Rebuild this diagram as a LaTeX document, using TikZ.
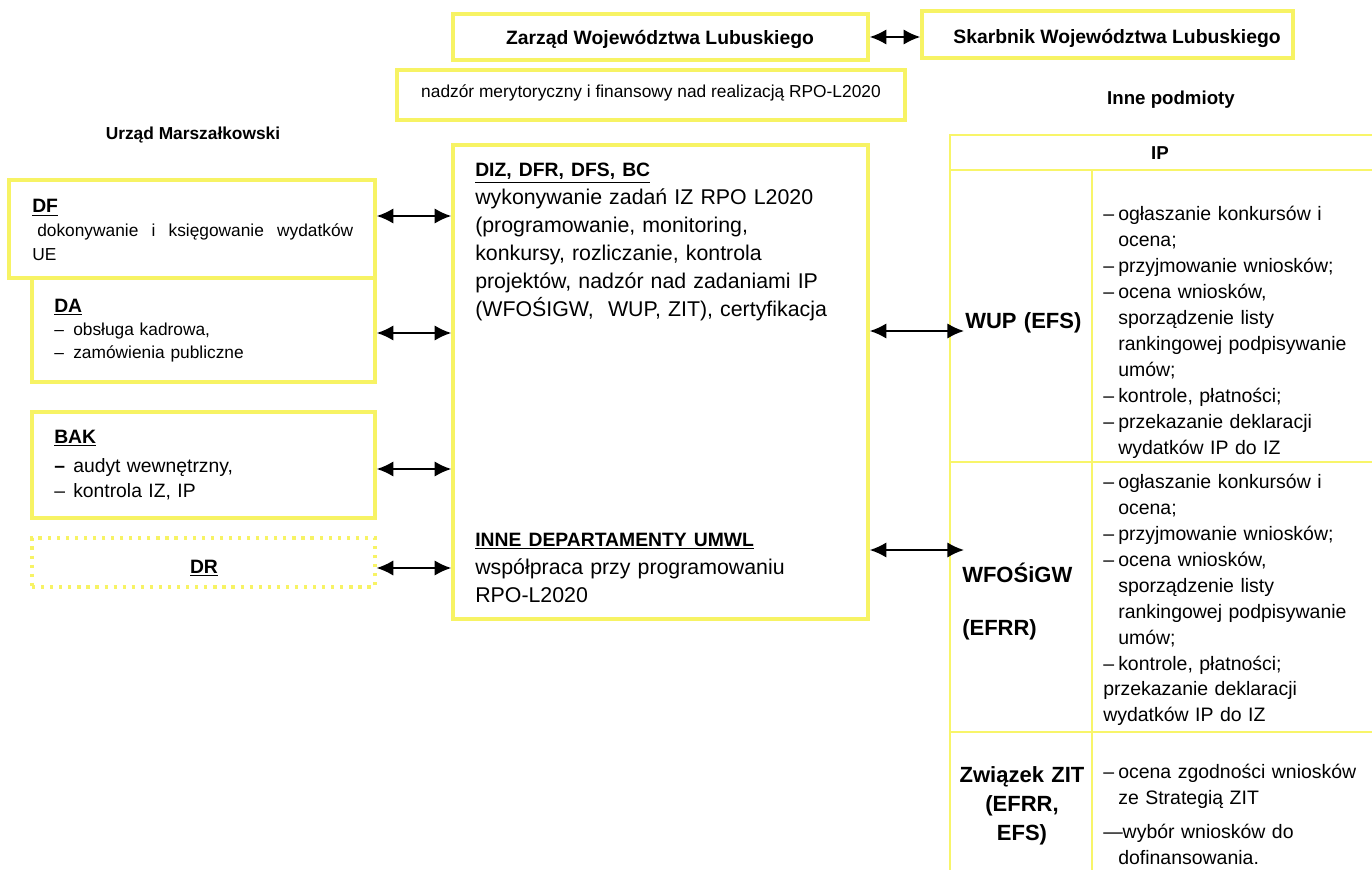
\documentclass[tikz,border=0pt]{standalone}
\usepackage{fontspec}
\setmainfont{Liberation Sans}
\usetikzlibrary{arrows.meta,fit}
\definecolor{ybox}{RGB}{247,243,100}
\definecolor{yline}{RGB}{248,245,105}
\newcommand{\fsz}[2]{\fontsize{#1}{#2}\selectfont}
\newcommand{\dsh}{\makebox[11.25pt][l]{–}}
\newcommand{\ind}{\hspace*{11.25pt}}
\newcommand{\ldsh}{\makebox[14.25pt][l]{–}}
\begin{document}
\begin{tikzpicture}[x=0.75pt,y=-0.75pt,
  ybox/.style={draw=ybox,line width=2.6pt,inner sep=0pt},
  ydot/.style={draw=ybox,line width=2.4pt,dash pattern=on 2.4pt off 4.4pt,inner sep=0pt},
  tline/.style={draw=yline,line width=1.8pt},
  dbl/.style={{Latex[length=12.5pt,width=11.5pt]}-{Latex[length=12.5pt,width=11.5pt]},line width=1.4pt},
  txt/.style={inner sep=0pt,anchor=base west,align=left},
  ctxt/.style={inner sep=0pt,anchor=base},
  ]
\useasboundingbox[fill=white] (0,0) rectangle (1372,870);

% boxes
\node[ybox,fit={(453,14)(868,60)}] (zarzad) {};
\node[ybox,fit={(922,11)(1293,58)}] (skarbnik) {};
\node[ybox,fit={(397,70)(905,120)}] (nadzor) {};
\node[ybox,fit={(9,180)(375,278)}] (df) {};
\node[ybox,fit={(32,278)(375,382)}] (da) {};
\node[ybox,fit={(32,412)(375,518)}] (bak) {};
\node[ydot,fit={(32,538)(375,587)}] (dr) {};
\node[ybox,fit={(453,145)(868,619)}] (ctr) {};

% table
\draw[tline] (950,870) -- (950,135) -- (1372,135);
\draw[tline] (950,170) -- (1372,170);
\draw[tline] (950,462) -- (1372,462);
\draw[tline] (950,732) -- (1372,732);
\draw[tline] (1092,170) -- (1092,870);

% titles
\node[ctxt,font=\bfseries\fsz{14.5pt}{17pt}] (zarzadT) at (660,45) {Zarząd Województwa Lubuskiego};
\node[ctxt,font=\bfseries\fsz{14.5pt}{17pt}] (skarbT) at (1117,44) {Skarbnik Województwa Lubuskiego};
\node[ctxt,font=\fsz{13pt}{15pt}] (nadzorT) at (651,98) {nadzór merytoryczny i finansowy nad realizacją RPO-L2020};
\node[ctxt,font=\bfseries\fsz{13pt}{15pt}] (urzad) at (193,140) {Urząd Marszałkowski};
\node[ctxt,font=\bfseries\fsz{14pt}{17pt}] (inne) at (1171,105) {Inne podmioty};

% left texts
\node[txt,text width=260pt,font=\fsz{13pt}{18pt}] (dfT) at (32,213)
  {{\bfseries\fsz{14.5pt}{18pt}\underline{DF}}\\
   \hspace*{3.75pt}\hbox to 237pt{dokonywanie\hfill i\hfill księgowanie\hfill wydatków}\\
   UE};
\node[txt,text width=240pt,font=\fsz{13pt}{17.6pt}] (daT) at (54,312)
  {{\bfseries\fsz{14.5pt}{17.6pt}\underline{DA}}\\
   \ldsh obsługa kadrowa,\\
   \ldsh zamówienia publiczne};
\node[txt,text width=240pt,font=\fsz{14.5pt}{19pt}] (bakT) at (54,443)
  {{\bfseries\underline{BAK}}\\[3pt]
   \makebox[14.25pt][l]{\bfseries –}audyt wewnętrzny,\\
   \ldsh kontrola IZ, IP};
\node[ctxt,font=\bfseries\fsz{14.5pt}{17pt}] (drT) at (204,573) {\underline{DR}};

% center texts
\node[txt,text width=300pt,font=\fsz{16pt}{21pt}] (ctrT) at (475,177)
  {{\bfseries\fsz{14.5pt}{21pt}\underline{DIZ, DFR, DFS, BC}}\\
   wykonywanie zadań IZ RPO L2020\\
   (programowanie, monitoring,\\
   konkursy, rozliczanie, kontrola\\
   projektów, nadzór nad zadaniami IP\\
   (WFOŚIGW,\ \ WUP, ZIT), certyfikacja};
\node[txt,text width=300pt,font=\fsz{16pt}{21pt}] (inneT) at (475,546)
  {{\bfseries\fsz{14.5pt}{21pt}\underline{INNE DEPARTAMENTY UMWL}}\\
   współpraca przy programowaniu\\
   RPO-L2020};

% table texts
\node[ctxt,font=\bfseries\fsz{14pt}{17pt}] (ip) at (1160,160) {IP};
\node[txt,text width=120pt,font=\bfseries\fsz{16.5pt}{20pt}] (wup) at (965,328) {WUP (EFS)};
\node[txt,text width=200pt,font=\fsz{14.6pt}{19.5pt}] (wupT) at (1103,221)
  {\dsh ogłaszanie konkursów i\\
   \ind ocena;\\
   \dsh przyjmowanie wniosków;\\
   \dsh ocena wniosków,\\
   \ind sporządzenie listy\\
   \ind rankingowej podpisywanie\\
   \ind umów;\\
   \dsh kontrole, płatności;\\
   \dsh przekazanie deklaracji\\
   \ind wydatków IP do IZ};
\node[txt,text width=120pt,font=\bfseries\fsz{16.5pt}{39.75pt}] (wf) at (962,582) {WFOŚiGW\\(EFRR)};
\node[txt,text width=200pt,font=\fsz{14.6pt}{19.5pt}] (wfT) at (1103,488)
  {\dsh ogłaszanie konkursów i\\
   \ind ocena;\\
   \dsh przyjmowanie wniosków;\\
   \dsh ocena wniosków,\\
   \ind sporządzenie listy\\
   \ind rankingowej podpisywanie\\
   \ind umów;\\
   \dsh kontrole, płatności;\\
   przekazanie deklaracji\\
   wydatków IP do IZ};
\node[ctxt,text width=110pt,align=center,font=\bfseries\fsz{16.5pt}{21.75pt}] (zit) at (1022,782) {Związek ZIT\\(EFRR,\\EFS)};
\node[txt,text width=200pt,font=\fsz{14.6pt}{19.5pt}] (zitT) at (1103,778)
  {\dsh ocena zgodności wniosków\\
   \ind ze Strategią ZIT\\[6pt]
   —wybór wniosków do\\
   \ind dofinansowania.};

% arrows
\coordinate (aDF) at (0,216);
\coordinate (aDA) at (0,333);
\coordinate (aBAK) at (0,469);
\coordinate (aDR) at (0,568);
\coordinate (aWUP) at (964,331);
\coordinate (aWF) at (964,550);
\draw[dbl] (zarzad.east) -- (skarbnik.west |- zarzad.east);
\draw[dbl] (df.east |- aDF) -- (ctr.west |- aDF);
\draw[dbl] (da.east |- aDA) -- (ctr.west |- aDA);
\draw[dbl] (bak.east |- aBAK) -- (ctr.west |- aBAK);
\draw[dbl] (dr.east |- aDR) -- (ctr.west |- aDR);
\draw[dbl] (ctr.east |- aWUP) -- (aWUP);
\draw[dbl] (ctr.east |- aWF) -- (aWF);
\end{tikzpicture}
\end{document}
